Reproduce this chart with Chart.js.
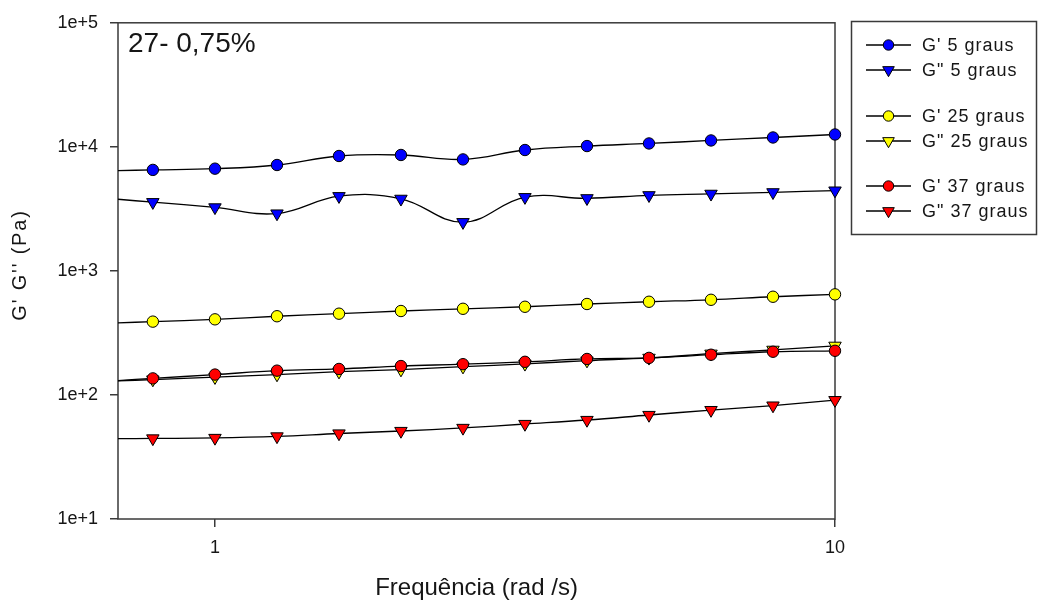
<!DOCTYPE html>
<html>
<head>
<meta charset="utf-8">
<script src="https://cdn.jsdelivr.net/npm/chart.js@4.4.1/dist/chart.umd.min.js"></script>
<style>
  html, body { margin: 0; padding: 0; background: #ffffff; }
  canvas { display: block; }
</style>
</head>
<body>
<canvas id="chart" width="1040" height="600"></canvas>
<script>
// Angular frequency sweep (rad/s)
const frequencies = [0.794, 1.0, 1.259, 1.585, 1.995, 2.512, 3.162, 3.981, 5.012, 6.310, 7.943, 10.0];

// Storage (G') and loss (G'') moduli in Pa at three temperatures
const gPrime5   = [6520, 6670, 7140, 8440, 8600, 7920, 9430, 10150, 10650, 11260, 11900, 12580];
const gDouble5  = [3580, 3250, 2900, 4000, 3810, 2470, 3930, 3850, 4070, 4180, 4300, 4440];
const gPrime25  = [390, 407, 431, 452, 475, 495, 514, 541, 564, 585, 619, 647];
const gDouble25 = [133, 139, 146, 154, 160, 169, 178, 189, 199, 215, 231, 249];
const gPrime37  = [136, 146, 157, 162, 171, 177, 185, 195, 199, 211, 223, 227];
const gDouble37 = [44.6, 45.0, 46.3, 48.9, 51.2, 54.2, 58.3, 62.8, 68.9, 75.5, 82.1, 90.8];

const seriesLabels = ["G' 5 graus", 'G" 5 graus', "G' 25 graus", 'G" 25 graus', "G' 37 graus", 'G" 37 graus'];
const seriesValues = [gPrime5, gDouble5, gPrime25, gDouble25, gPrime37, gDouble37];
const seriesColors = ['#0000ff', '#0000ff', '#ffff00', '#ffff00', '#ff0000', '#ff0000'];
const seriesShapes = ['circle', 'triangle', 'circle', 'triangle', 'circle', 'triangle'];
// drawing order of the markers (lower = on top)
const seriesOrder = [1, 2, 3, 5, 4, 6];

const xTickValues = [1, 10];
const xTickLabels = ['1', '10'];
const yTickValues = [1e1, 1e2, 1e3, 1e4, 1e5];
const yTickLabels = ['1e+1', '1e+2', '1e+3', '1e+4', '1e+5'];

const xMin = 0.6976, xMax = 10;
const yMin = 1e1, yMax = 1e5;

const TEXT = '#161616';
const FRAME = '#3a3a3a';
const FONT = "'Liberation Sans', Arial, sans-serif";

function markerStyle(i) {
  const tri = seriesShapes[i] === 'triangle';
  return {
    pointStyle: tri ? 'triangle' : 'circle',
    radius: tri ? 7.2 : 5.7,
    rotation: tri ? 180 : 0
  };
}

// Curve through the points, carried on to the left edge of the axis
function curvePoints(values) {
  const pts = frequencies.map((f, k) => ({ x: f, y: values[k] }));
  const lf0 = Math.log10(frequencies[0]), lf1 = Math.log10(frequencies[1]);
  const lv0 = Math.log10(values[0]), lv1 = Math.log10(values[1]);
  const lEdge = lv0 + (lv0 - lv1) * (lf0 - Math.log10(xMin)) / (lf1 - lf0);
  pts.unshift({ x: xMin, y: Math.pow(10, lEdge) });
  return pts;
}

const datasets = [];
seriesValues.forEach((vals, i) => {
  datasets.push({
    label: seriesLabels[i] + ' curve',
    data: curvePoints(vals),
    showLine: true,
    borderColor: '#000000',
    borderWidth: 1.3,
    tension: 0.4,
    pointRadius: 0,
    pointHoverRadius: 0,
    fill: false,
    order: 20 + i
  });
});
seriesValues.forEach((vals, i) => {
  const m = markerStyle(i);
  datasets.push({
    label: seriesLabels[i],
    data: frequencies.map((f, k) => ({ x: f, y: vals[k] })),
    showLine: false,
    pointStyle: m.pointStyle,
    pointRadius: m.radius,
    pointRotation: m.rotation,
    pointBackgroundColor: seriesColors[i],
    pointBorderColor: '#000000',
    pointBorderWidth: 1,
    clip: false,
    order: seriesOrder[i]
  });
});

function drawMarker(ctx, i, x, y) {
  const m = markerStyle(i);
  ctx.save();
  ctx.fillStyle = seriesColors[i];
  ctx.strokeStyle = '#000000';
  ctx.lineWidth = 1;
  Chart.helpers.drawPoint(ctx, {
    pointStyle: m.pointStyle, rotation: m.rotation, radius: m.radius - 0.5, borderWidth: 1
  }, x, y);
  ctx.restore();
}

const decorations = {
  id: 'decorations',
  beforeDatasetsDraw(chart) {
    const a = chart.chartArea;
    const ctx = chart.ctx;
    ctx.save();
    ctx.strokeStyle = FRAME;
    ctx.lineWidth = 1.5;
    ctx.strokeRect(a.left, a.top, a.right - a.left, a.bottom - a.top);
    ctx.restore();
  },
  afterDraw(chart) {
    const a = chart.chartArea;
    const ctx = chart.ctx;
    ctx.save();
    ctx.fillStyle = TEXT;

    // panel label
    ctx.font = '28px ' + FONT;
    ctx.textAlign = 'left';
    ctx.textBaseline = 'alphabetic';
    ctx.fillText('27- 0,75%', a.left + 10, 52);

    // x axis title
    ctx.font = '24px ' + FONT;
    ctx.textAlign = 'center';
    ctx.fillText('Frequência (rad /s)', (a.left + a.right) / 2, 595);

    // y axis title
    ctx.save();
    ctx.translate(26, 265);
    ctx.rotate(-Math.PI / 2);
    ctx.font = '20px ' + FONT;
    if ('letterSpacing' in ctx) ctx.letterSpacing = '1.8px';
    ctx.textAlign = 'center';
    ctx.fillText("G' G'' (Pa)", 0, 0);
    ctx.restore();

    // legend
    const box = { x: 851, y: 21, w: 185, h: 213 };
    ctx.strokeStyle = FRAME;
    ctx.lineWidth = 1.5;
    ctx.strokeRect(box.x + 0.5, box.y + 0.5, box.w, box.h);
    const rowY = [45, 70, 116, 141, 186, 211];
    ctx.font = '18px ' + FONT;
    if ('letterSpacing' in ctx) ctx.letterSpacing = '1px';
    ctx.textAlign = 'left';
    ctx.textBaseline = 'middle';
    seriesLabels.forEach((lab, i) => {
      const y = rowY[i];
      ctx.strokeStyle = '#000000';
      ctx.lineWidth = 1.3;
      ctx.beginPath();
      ctx.moveTo(866, y);
      ctx.lineTo(911, y);
      ctx.stroke();
      drawMarker(ctx, i, 888.5, y);
      ctx.fillStyle = TEXT;
      ctx.fillText(lab, 922, y + 1);
    });
    ctx.restore();
  }
};

new Chart(document.getElementById('chart'), {
  type: 'scatter',
  data: { datasets },
  options: {
    responsive: false,
    devicePixelRatio: 1,
    animation: false,
    events: [],
    layout: { padding: { left: 0, right: 205, top: 20, bottom: 0 } },
    plugins: {
      legend: { display: false },
      tooltip: { enabled: false },
      title: { display: false }
    },
    scales: {
      x: {
        type: 'logarithmic',
        min: xMin,
        max: xMax,
        afterBuildTicks(scale) { scale.ticks = xTickValues.map(v => ({ value: v })); },
        afterFit(scale) { scale.height = 81; },
        ticks: {
          callback: (v, i) => xTickLabels[i],
          autoSkip: false,
          maxRotation: 0,
          padding: 10,
          color: TEXT,
          font: { family: FONT, size: 18 }
        },
        grid: { drawOnChartArea: false, drawTicks: true, tickLength: 8, color: FRAME, lineWidth: 1.5 },
        border: { display: false }
      },
      y: {
        type: 'logarithmic',
        min: yMin,
        max: yMax,
        afterBuildTicks(scale) { scale.ticks = yTickValues.map(v => ({ value: v })); },
        afterFit(scale) { scale.width = 118; },
        ticks: {
          callback: (v, i) => yTickLabels[i],
          autoSkip: false,
          padding: 12,
          color: TEXT,
          font: { family: FONT, size: 18 }
        },
        grid: { drawOnChartArea: false, drawTicks: true, tickLength: 8, color: FRAME, lineWidth: 1.5 },
        border: { display: false }
      }
    }
  },
  plugins: [decorations]
});
</script>
</body>
</html>
